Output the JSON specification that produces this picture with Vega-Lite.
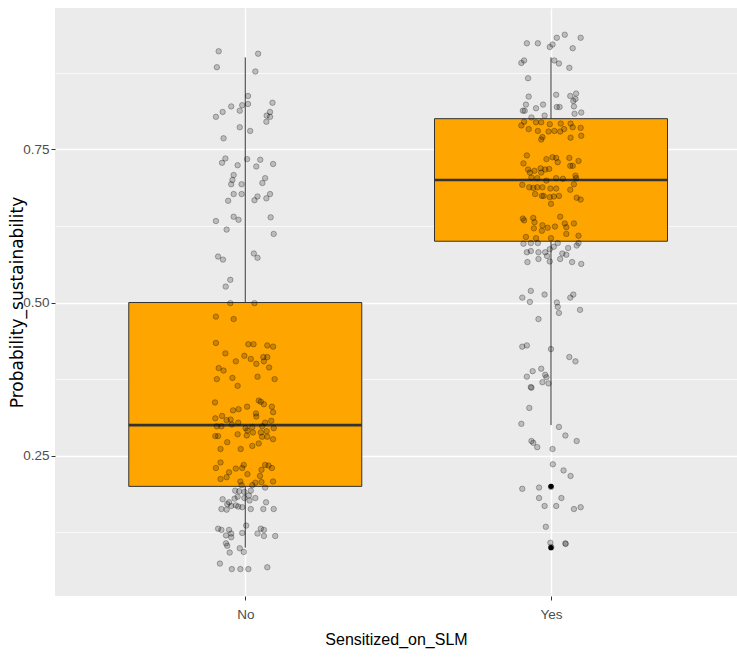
{
  "$schema": "https://vega.github.io/schema/vega-lite/v6.json",
  "width": 682,
  "height": 588,
  "autosize": {"type": "none"},
  "padding": {"left": 55, "top": 8, "right": 0, "bottom": 62},
  "background": "white",
  "config": {
    "view": {"fill": "#EBEBEB", "stroke": null},
    "axis": {
      "domain": false,
      "gridColor": "white",
      "tickColor": "#333333",
      "tickWidth": 1,
      "tickSize": 4,
      "labelColor": "#4D4D4D",
      "labelFont": "Liberation Sans Narrow, Liberation Sans",
      "labelFontSize": 13.5,
      "titleColor": "black",
      "titleFontWeight": "normal"
    }
  },
  "datasets": {
    "jitter": [
      {"group":"No","x":0.913,"y":0.910},{"group":"No","x":1.042,"y":0.906},{"group":"No","x":0.907,"y":0.884},{"group":"No","x":1.033,"y":0.877},
      {"group":"No","x":1.009,"y":0.837},{"group":"No","x":1.089,"y":0.826},{"group":"No","x":1.009,"y":0.824},{"group":"No","x":0.990,"y":0.822},
      {"group":"No","x":0.954,"y":0.820},{"group":"No","x":0.982,"y":0.813},{"group":"No","x":0.926,"y":0.811},{"group":"No","x":0.904,"y":0.803},
      {"group":"No","x":1.081,"y":0.811},{"group":"No","x":1.070,"y":0.805},{"group":"No","x":1.081,"y":0.803},{"group":"No","x":1.069,"y":0.795},
      {"group":"No","x":0.982,"y":0.786},{"group":"No","x":1.016,"y":0.780},{"group":"No","x":0.929,"y":0.768},{"group":"No","x":0.935,"y":0.735},
      {"group":"No","x":0.924,"y":0.728},{"group":"No","x":0.975,"y":0.724},{"group":"No","x":1.006,"y":0.734},{"group":"No","x":1.049,"y":0.733},
      {"group":"No","x":1.036,"y":0.722},{"group":"No","x":1.091,"y":0.726},{"group":"No","x":0.962,"y":0.708},{"group":"No","x":0.958,"y":0.700},
      {"group":"No","x":0.954,"y":0.693},{"group":"No","x":0.988,"y":0.693},{"group":"No","x":1.065,"y":0.703},{"group":"No","x":1.056,"y":0.695},
      {"group":"No","x":0.962,"y":0.677},{"group":"No","x":0.988,"y":0.677},{"group":"No","x":1.040,"y":0.673},{"group":"No","x":1.030,"y":0.667},
      {"group":"No","x":1.081,"y":0.677},{"group":"No","x":1.069,"y":0.670},{"group":"No","x":0.944,"y":0.666},{"group":"No","x":0.962,"y":0.640},
      {"group":"No","x":0.978,"y":0.635},{"group":"No","x":0.904,"y":0.633},{"group":"No","x":1.083,"y":0.639},{"group":"No","x":0.939,"y":0.619},
      {"group":"No","x":1.093,"y":0.612},{"group":"No","x":0.911,"y":0.575},{"group":"No","x":0.927,"y":0.570},{"group":"No","x":1.028,"y":0.580},
      {"group":"No","x":1.040,"y":0.573},{"group":"No","x":0.951,"y":0.537},{"group":"No","x":0.936,"y":0.526},{"group":"No","x":0.951,"y":0.499},
      {"group":"No","x":1.030,"y":0.499},{"group":"No","x":0.904,"y":0.477},{"group":"No","x":0.962,"y":0.473},{"group":"No","x":0.904,"y":0.434},
      {"group":"No","x":1.010,"y":0.432},{"group":"No","x":1.027,"y":0.432},{"group":"No","x":1.072,"y":0.430},{"group":"No","x":1.091,"y":0.428},
      {"group":"No","x":0.935,"y":0.417},{"group":"No","x":0.997,"y":0.413},{"group":"No","x":1.018,"y":0.408},{"group":"No","x":1.059,"y":0.411},
      {"group":"No","x":1.072,"y":0.411},{"group":"No","x":0.969,"y":0.404},{"group":"No","x":1.061,"y":0.404},{"group":"No","x":1.036,"y":0.400},
      {"group":"No","x":0.913,"y":0.393},{"group":"No","x":0.929,"y":0.389},{"group":"No","x":1.078,"y":0.394},{"group":"No","x":0.907,"y":0.375},
      {"group":"No","x":0.958,"y":0.377},{"group":"No","x":1.040,"y":0.379},{"group":"No","x":1.096,"y":0.375},{"group":"No","x":0.975,"y":0.364},
      {"group":"No","x":0.901,"y":0.337},{"group":"No","x":1.044,"y":0.340},{"group":"No","x":1.051,"y":0.338},{"group":"No","x":1.061,"y":0.334},
      {"group":"No","x":1.006,"y":0.330},{"group":"No","x":0.978,"y":0.326},{"group":"No","x":0.960,"y":0.324},{"group":"No","x":1.087,"y":0.330},
      {"group":"No","x":1.091,"y":0.321},{"group":"No","x":1.035,"y":0.319},{"group":"No","x":1.036,"y":0.314},{"group":"No","x":0.924,"y":0.315},
      {"group":"No","x":0.902,"y":0.311},{"group":"No","x":0.939,"y":0.308},{"group":"No","x":0.952,"y":0.309},{"group":"No","x":0.977,"y":0.304},
      {"group":"No","x":1.065,"y":0.304},{"group":"No","x":1.085,"y":0.307},{"group":"No","x":0.907,"y":0.298},{"group":"No","x":0.922,"y":0.298},
      {"group":"No","x":1.001,"y":0.295},{"group":"No","x":1.023,"y":0.297},{"group":"No","x":1.055,"y":0.298},{"group":"No","x":1.093,"y":0.295},
      {"group":"No","x":0.956,"y":0.301},{"group":"No","x":1.007,"y":0.291},{"group":"No","x":1.025,"y":0.288},{"group":"No","x":1.051,"y":0.288},
      {"group":"No","x":1.070,"y":0.290},{"group":"No","x":0.975,"y":0.285},{"group":"No","x":1.005,"y":0.283},{"group":"No","x":0.902,"y":0.282},
      {"group":"No","x":0.911,"y":0.282},{"group":"No","x":1.055,"y":0.281},{"group":"No","x":1.072,"y":0.281},{"group":"No","x":1.091,"y":0.277},
      {"group":"No","x":0.941,"y":0.272},{"group":"No","x":1.044,"y":0.270},{"group":"No","x":1.023,"y":0.266},{"group":"No","x":0.919,"y":0.261},
      {"group":"No","x":0.985,"y":0.261},{"group":"No","x":0.919,"y":0.239},{"group":"No","x":0.904,"y":0.230},{"group":"No","x":0.995,"y":0.235},
      {"group":"No","x":0.990,"y":0.230},{"group":"No","x":0.969,"y":0.229},{"group":"No","x":1.065,"y":0.235},{"group":"No","x":1.076,"y":0.234},
      {"group":"No","x":1.087,"y":0.230},{"group":"No","x":1.053,"y":0.227},{"group":"No","x":0.947,"y":0.223},{"group":"No","x":1.007,"y":0.220},
      {"group":"No","x":1.048,"y":0.217},{"group":"No","x":0.919,"y":0.212},{"group":"No","x":0.939,"y":0.215},{"group":"No","x":0.984,"y":0.208},
      {"group":"No","x":1.053,"y":0.207},{"group":"No","x":1.091,"y":0.208},{"group":"No","x":1.033,"y":0.206},{"group":"No","x":1.023,"y":0.202},
      {"group":"No","x":0.988,"y":0.202},{"group":"No","x":1.065,"y":0.198},{"group":"No","x":0.967,"y":0.193},{"group":"No","x":0.980,"y":0.192},
      {"group":"No","x":0.997,"y":0.191},{"group":"No","x":1.018,"y":0.193},{"group":"No","x":0.975,"y":0.183},{"group":"No","x":0.965,"y":0.180},
      {"group":"No","x":0.997,"y":0.181},{"group":"No","x":1.012,"y":0.185},{"group":"No","x":0.926,"y":0.179},{"group":"No","x":1.033,"y":0.181},
      {"group":"No","x":0.947,"y":0.174},{"group":"No","x":0.941,"y":0.171},{"group":"No","x":0.969,"y":0.169},{"group":"No","x":1.014,"y":0.177},
      {"group":"No","x":1.068,"y":0.174},{"group":"No","x":0.922,"y":0.163},{"group":"No","x":0.939,"y":0.162},{"group":"No","x":0.954,"y":0.168},
      {"group":"No","x":0.977,"y":0.167},{"group":"No","x":0.990,"y":0.166},{"group":"No","x":1.018,"y":0.163},{"group":"No","x":1.059,"y":0.163},
      {"group":"No","x":1.093,"y":0.163},{"group":"No","x":0.911,"y":0.131},{"group":"No","x":0.922,"y":0.129},{"group":"No","x":0.947,"y":0.129},
      {"group":"No","x":0.954,"y":0.123},{"group":"No","x":0.937,"y":0.120},{"group":"No","x":0.954,"y":0.117},{"group":"No","x":0.990,"y":0.124},
      {"group":"No","x":1.003,"y":0.136},{"group":"No","x":1.040,"y":0.123},{"group":"No","x":1.051,"y":0.131},{"group":"No","x":1.061,"y":0.129},
      {"group":"No","x":1.061,"y":0.119},{"group":"No","x":1.098,"y":0.119},{"group":"No","x":0.937,"y":0.107},{"group":"No","x":0.941,"y":0.103},
      {"group":"No","x":0.982,"y":0.099},{"group":"No","x":0.995,"y":0.093},{"group":"No","x":0.949,"y":0.092},{"group":"No","x":0.917,"y":0.074},
      {"group":"No","x":0.956,"y":0.065},{"group":"No","x":0.984,"y":0.065},{"group":"No","x":1.010,"y":0.065},{"group":"No","x":1.072,"y":0.068},
      {"group":"Yes","x":1.921,"y":0.923},{"group":"Yes","x":1.957,"y":0.923},{"group":"Yes","x":2.019,"y":0.932},{"group":"Yes","x":2.045,"y":0.937},
      {"group":"Yes","x":2.097,"y":0.932},{"group":"Yes","x":1.996,"y":0.917},{"group":"Yes","x":2.005,"y":0.921},{"group":"Yes","x":2.071,"y":0.915},
      {"group":"Yes","x":1.903,"y":0.891},{"group":"Yes","x":1.912,"y":0.895},{"group":"Yes","x":2.011,"y":0.895},{"group":"Yes","x":2.026,"y":0.890},
      {"group":"Yes","x":2.060,"y":0.883},{"group":"Yes","x":1.925,"y":0.866},{"group":"Yes","x":1.927,"y":0.836},{"group":"Yes","x":2.017,"y":0.839},
      {"group":"Yes","x":2.063,"y":0.837},{"group":"Yes","x":2.082,"y":0.841},{"group":"Yes","x":2.080,"y":0.832},{"group":"Yes","x":2.073,"y":0.829},
      {"group":"Yes","x":1.918,"y":0.823},{"group":"Yes","x":1.974,"y":0.823},{"group":"Yes","x":2.019,"y":0.819},{"group":"Yes","x":2.028,"y":0.819},
      {"group":"Yes","x":1.951,"y":0.817},{"group":"Yes","x":2.075,"y":0.820},{"group":"Yes","x":1.914,"y":0.813},{"group":"Yes","x":1.908,"y":0.813},
      {"group":"Yes","x":2.099,"y":0.810},{"group":"Yes","x":2.077,"y":0.808},{"group":"Yes","x":1.979,"y":0.805},{"group":"Yes","x":1.936,"y":0.802},
      {"group":"Yes","x":1.912,"y":0.795},{"group":"Yes","x":1.951,"y":0.794},{"group":"Yes","x":1.968,"y":0.794},{"group":"Yes","x":2.032,"y":0.792},
      {"group":"Yes","x":2.064,"y":0.792},{"group":"Yes","x":1.996,"y":0.791},{"group":"Yes","x":1.903,"y":0.789},{"group":"Yes","x":1.927,"y":0.783},
      {"group":"Yes","x":1.957,"y":0.780},{"group":"Yes","x":1.992,"y":0.779},{"group":"Yes","x":2.011,"y":0.780},{"group":"Yes","x":2.030,"y":0.779},
      {"group":"Yes","x":2.043,"y":0.783},{"group":"Yes","x":2.071,"y":0.786},{"group":"Yes","x":2.097,"y":0.785},{"group":"Yes","x":1.972,"y":0.770},
      {"group":"Yes","x":1.968,"y":0.766},{"group":"Yes","x":2.064,"y":0.769},{"group":"Yes","x":2.099,"y":0.772},{"group":"Yes","x":1.921,"y":0.740},
      {"group":"Yes","x":1.910,"y":0.727},{"group":"Yes","x":1.985,"y":0.734},{"group":"Yes","x":2.005,"y":0.737},{"group":"Yes","x":2.017,"y":0.736},
      {"group":"Yes","x":2.022,"y":0.729},{"group":"Yes","x":2.060,"y":0.736},{"group":"Yes","x":2.090,"y":0.731},{"group":"Yes","x":2.063,"y":0.723},
      {"group":"Yes","x":2.071,"y":0.723},{"group":"Yes","x":1.925,"y":0.717},{"group":"Yes","x":1.931,"y":0.712},{"group":"Yes","x":1.946,"y":0.715},
      {"group":"Yes","x":1.966,"y":0.719},{"group":"Yes","x":1.968,"y":0.712},{"group":"Yes","x":1.981,"y":0.717},{"group":"Yes","x":1.994,"y":0.718},
      {"group":"Yes","x":1.936,"y":0.704},{"group":"Yes","x":1.955,"y":0.703},{"group":"Yes","x":1.985,"y":0.699},{"group":"Yes","x":2.017,"y":0.703},
      {"group":"Yes","x":2.039,"y":0.702},{"group":"Yes","x":2.080,"y":0.707},{"group":"Yes","x":2.082,"y":0.703},{"group":"Yes","x":1.906,"y":0.692},
      {"group":"Yes","x":1.929,"y":0.688},{"group":"Yes","x":1.942,"y":0.687},{"group":"Yes","x":1.955,"y":0.688},{"group":"Yes","x":1.972,"y":0.688},
      {"group":"Yes","x":1.998,"y":0.686},{"group":"Yes","x":2.017,"y":0.686},{"group":"Yes","x":2.063,"y":0.684},{"group":"Yes","x":2.075,"y":0.693},
      {"group":"Yes","x":1.948,"y":0.677},{"group":"Yes","x":1.970,"y":0.674},{"group":"Yes","x":1.976,"y":0.674},{"group":"Yes","x":1.996,"y":0.672},
      {"group":"Yes","x":2.009,"y":0.673},{"group":"Yes","x":2.026,"y":0.674},{"group":"Yes","x":2.084,"y":0.671},{"group":"Yes","x":2.097,"y":0.668},
      {"group":"Yes","x":2.000,"y":0.661},{"group":"Yes","x":1.908,"y":0.637},{"group":"Yes","x":1.912,"y":0.634},{"group":"Yes","x":1.942,"y":0.638},
      {"group":"Yes","x":1.946,"y":0.631},{"group":"Yes","x":2.030,"y":0.640},{"group":"Yes","x":2.045,"y":0.629},{"group":"Yes","x":2.075,"y":0.629},
      {"group":"Yes","x":1.944,"y":0.621},{"group":"Yes","x":1.972,"y":0.626},{"group":"Yes","x":1.989,"y":0.622},{"group":"Yes","x":2.013,"y":0.624},
      {"group":"Yes","x":2.050,"y":0.623},{"group":"Yes","x":1.970,"y":0.617},{"group":"Yes","x":2.050,"y":0.612},{"group":"Yes","x":2.090,"y":0.609},
      {"group":"Yes","x":1.918,"y":0.607},{"group":"Yes","x":1.951,"y":0.605},{"group":"Yes","x":2.000,"y":0.605},{"group":"Yes","x":1.910,"y":0.596},
      {"group":"Yes","x":1.934,"y":0.597},{"group":"Yes","x":1.957,"y":0.597},{"group":"Yes","x":2.022,"y":0.597},{"group":"Yes","x":2.084,"y":0.593},
      {"group":"Yes","x":2.090,"y":0.597},{"group":"Yes","x":2.009,"y":0.591},{"group":"Yes","x":2.056,"y":0.589},{"group":"Yes","x":1.921,"y":0.582},
      {"group":"Yes","x":1.934,"y":0.584},{"group":"Yes","x":1.959,"y":0.582},{"group":"Yes","x":1.981,"y":0.582},{"group":"Yes","x":1.996,"y":0.587},
      {"group":"Yes","x":2.037,"y":0.580},{"group":"Yes","x":1.987,"y":0.576},{"group":"Yes","x":2.050,"y":0.578},{"group":"Yes","x":1.959,"y":0.571},
      {"group":"Yes","x":1.923,"y":0.566},{"group":"Yes","x":1.996,"y":0.567},{"group":"Yes","x":2.030,"y":0.571},{"group":"Yes","x":2.069,"y":0.566},
      {"group":"Yes","x":2.099,"y":0.563},{"group":"Yes","x":1.934,"y":0.519},{"group":"Yes","x":1.906,"y":0.508},{"group":"Yes","x":1.931,"y":0.501},
      {"group":"Yes","x":1.979,"y":0.513},{"group":"Yes","x":2.019,"y":0.500},{"group":"Yes","x":2.022,"y":0.493},{"group":"Yes","x":2.026,"y":0.483},
      {"group":"Yes","x":2.063,"y":0.508},{"group":"Yes","x":2.073,"y":0.513},{"group":"Yes","x":2.095,"y":0.488},{"group":"Yes","x":1.959,"y":0.473},
      {"group":"Yes","x":1.906,"y":0.428},{"group":"Yes","x":1.921,"y":0.430},{"group":"Yes","x":2.000,"y":0.424},{"group":"Yes","x":2.060,"y":0.411},
      {"group":"Yes","x":2.080,"y":0.404},{"group":"Yes","x":1.968,"y":0.392},{"group":"Yes","x":1.940,"y":0.388},{"group":"Yes","x":1.921,"y":0.379},
      {"group":"Yes","x":1.981,"y":0.382},{"group":"Yes","x":1.985,"y":0.378},{"group":"Yes","x":1.972,"y":0.370},{"group":"Yes","x":1.992,"y":0.368},
      {"group":"Yes","x":1.934,"y":0.362},{"group":"Yes","x":1.936,"y":0.361},{"group":"Yes","x":1.929,"y":0.328},{"group":"Yes","x":1.903,"y":0.302},
      {"group":"Yes","x":2.026,"y":0.297},{"group":"Yes","x":2.047,"y":0.283},{"group":"Yes","x":2.084,"y":0.274},{"group":"Yes","x":1.936,"y":0.274},
      {"group":"Yes","x":1.942,"y":0.271},{"group":"Yes","x":1.955,"y":0.264},{"group":"Yes","x":2.005,"y":0.261},{"group":"Yes","x":2.006,"y":0.236},
      {"group":"Yes","x":2.041,"y":0.226},{"group":"Yes","x":2.064,"y":0.217},{"group":"Yes","x":1.906,"y":0.196},{"group":"Yes","x":1.961,"y":0.198},
      {"group":"Yes","x":2.000,"y":0.199},{"group":"Yes","x":1.961,"y":0.181},{"group":"Yes","x":2.034,"y":0.181},{"group":"Yes","x":1.979,"y":0.168},
      {"group":"Yes","x":2.017,"y":0.168},{"group":"Yes","x":2.075,"y":0.163},{"group":"Yes","x":2.097,"y":0.166},{"group":"Yes","x":1.983,"y":0.134},
      {"group":"Yes","x":1.998,"y":0.108},{"group":"Yes","x":2.047,"y":0.107},{"group":"Yes","x":2.048,"y":0.106},{"group":"Yes","x":2.001,"y":0.101}
    ],
    "box": [
      {"group":"No","x":1,"lower":0.1,"q1":0.2,"median":0.3,"q3":0.5,"upper":0.9},
      {"group":"Yes","x":2,"lower":0.3,"q1":0.6,"median":0.7,"q3":0.8,"upper":0.9}
    ],
    "outliers": [
      {"group":"Yes","x":2,"y":0.2},
      {"group":"Yes","x":2,"y":0.1}
    ]
  },
  "encoding": {
    "x": {
      "field": "x",
      "type": "quantitative",
      "scale": {"domain": [0.394, 2.592], "nice": false, "zero": false},
      "axis": {
        "values": [1, 2],
        "labelExpr": "datum.value === 1 ? 'No' : 'Yes'",
        "grid": true,
        "gridWidth": 1.4,
        "labelPadding": 7,
        "labelFlush": false,
        "title": "Sensitized_on_SLM",
        "titleFont": "Liberation Sans Narrow, Liberation Sans",
        "titleFontSize": 16,
        "titlePadding": 11
      }
    }
  },
  "layer": [
    {
      "data": {"name": "box"},
      "mark": {"type": "rule", "color": "#333333", "strokeWidth": 1},
      "encoding": {
        "y": {
          "field": "lower", "type": "quantitative",
          "scale": {"domain": [0.0211, 0.9806], "nice": false, "zero": false},
          "axis": {
            "values": [0.125, 0.25, 0.375, 0.5, 0.625, 0.75, 0.875],
            "labelExpr": "(datum.value * 8) % 2 === 1 ? '' : format(datum.value, '.2f')",
            "gridWidth": {"condition": {"test": "(datum.value * 8) % 2 === 1", "value": 0.7}, "value": 1.4},
            "tickOpacity": {"condition": {"test": "(datum.value * 8) % 2 === 1", "value": 0}, "value": 1},
            "labelPadding": 2,
            "title": "Probability_sustainability",
            "titleFont": "DejaVu Sans",
            "titleFontSize": 17,
            "titleBaseline": "middle",
            "titleX": -38
          }
        },
        "y2": {"field": "upper"}
      }
    },
    {
      "data": {"name": "box"},
      "mark": {"type": "bar", "width": 233, "fill": "#FFA500", "stroke": "#333333", "strokeWidth": 1},
      "encoding": {
        "y": {
          "field": "q1", "type": "quantitative",
          "scale": {"domain": [0.0211, 0.9806], "nice": false, "zero": false},
          "title": "Probability_sustainability"
        },
        "y2": {"field": "q3"}
      }
    },
    {
      "data": {"name": "box"},
      "mark": {"type": "tick", "orient": "horizontal", "size": 233, "thickness": 2.6, "color": "#333333", "opacity": 1},
      "encoding": {
        "y": {
          "field": "median", "type": "quantitative",
          "scale": {"domain": [0.0211, 0.9806], "nice": false, "zero": false},
          "title": "Probability_sustainability"
        }
      }
    },
    {
      "data": {"name": "outliers"},
      "mark": {"type": "point", "shape": "circle", "filled": true, "size": 28, "color": "black", "opacity": 1},
      "encoding": {
        "y": {
          "field": "y", "type": "quantitative",
          "scale": {"domain": [0.0211, 0.9806], "nice": false, "zero": false},
          "title": "Probability_sustainability"
        }
      }
    },
    {
      "data": {"name": "jitter"},
      "mark": {"type": "point", "shape": "circle", "filled": true, "size": 30, "fill": "black", "fillOpacity": 0.2, "stroke": "black", "strokeOpacity": 0.28, "strokeWidth": 1},
      "encoding": {
        "y": {
          "field": "y", "type": "quantitative",
          "scale": {"domain": [0.0211, 0.9806], "nice": false, "zero": false},
          "title": "Probability_sustainability"
        }
      }
    }
  ]
}
